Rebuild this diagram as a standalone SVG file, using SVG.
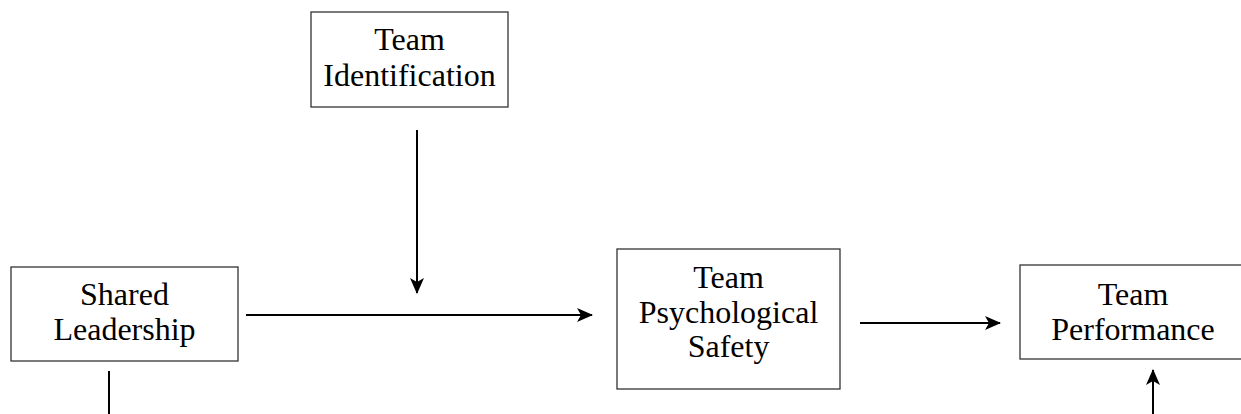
<svg xmlns="http://www.w3.org/2000/svg" width="1241" height="414" viewBox="0 0 1241 414">
<style>
.box{fill:#fff;stroke:#333;stroke-width:1.3}
.lbl{font-family:"Liberation Serif","Times New Roman",serif;font-size:32px;fill:#000;text-anchor:middle}
.ln{stroke:#000;stroke-width:2;fill:none}
</style>
<defs>
<marker id="ah" viewBox="0 0 16 14" refX="15" refY="7" markerWidth="16" markerHeight="14" markerUnits="userSpaceOnUse" orient="auto">
<path d="M0,0 L16,7 L0,14 L4,7 Z" fill="#000"/>
</marker>
</defs>
<rect width="1241" height="414" fill="#fff"/>
<g id="connectors">
<line class="ln" x1="246" y1="315" x2="592" y2="315" marker-end="url(#ah)"/>
<line class="ln" x1="417" y1="130" x2="417" y2="293" marker-end="url(#ah)"/>
<line class="ln" x1="860" y1="323" x2="1000" y2="323" marker-end="url(#ah)"/>
<line class="ln" x1="109" y1="371" x2="109" y2="414"/>
<line class="ln" x1="1153" y1="414" x2="1153" y2="370" marker-end="url(#ah)"/>
</g>
<g id="shared-leadership">
<rect class="box" x="11" y="267" width="227" height="94"/>
<text class="lbl" x="124.5" y="305">Shared</text>
<text class="lbl" x="124.5" y="340">Leadership</text>
</g>
<g id="team-identification">
<rect class="box" x="311" y="12" width="197" height="95"/>
<text class="lbl" x="409.5" y="50">Team</text>
<text class="lbl" x="409.5" y="86">Identification</text>
</g>
<g id="team-psychological-safety">
<rect class="box" x="617" y="249" width="223" height="140"/>
<text class="lbl" x="728.5" y="288">Team</text>
<text class="lbl" x="728.5" y="323">Psychological</text>
<text class="lbl" x="728.5" y="357">Safety</text>
</g>
<g id="team-performance">
<rect class="box" x="1020" y="265" width="226" height="94"/>
<text class="lbl" x="1133" y="305">Team</text>
<text class="lbl" x="1133" y="340">Performance</text>
</g>
</svg>
